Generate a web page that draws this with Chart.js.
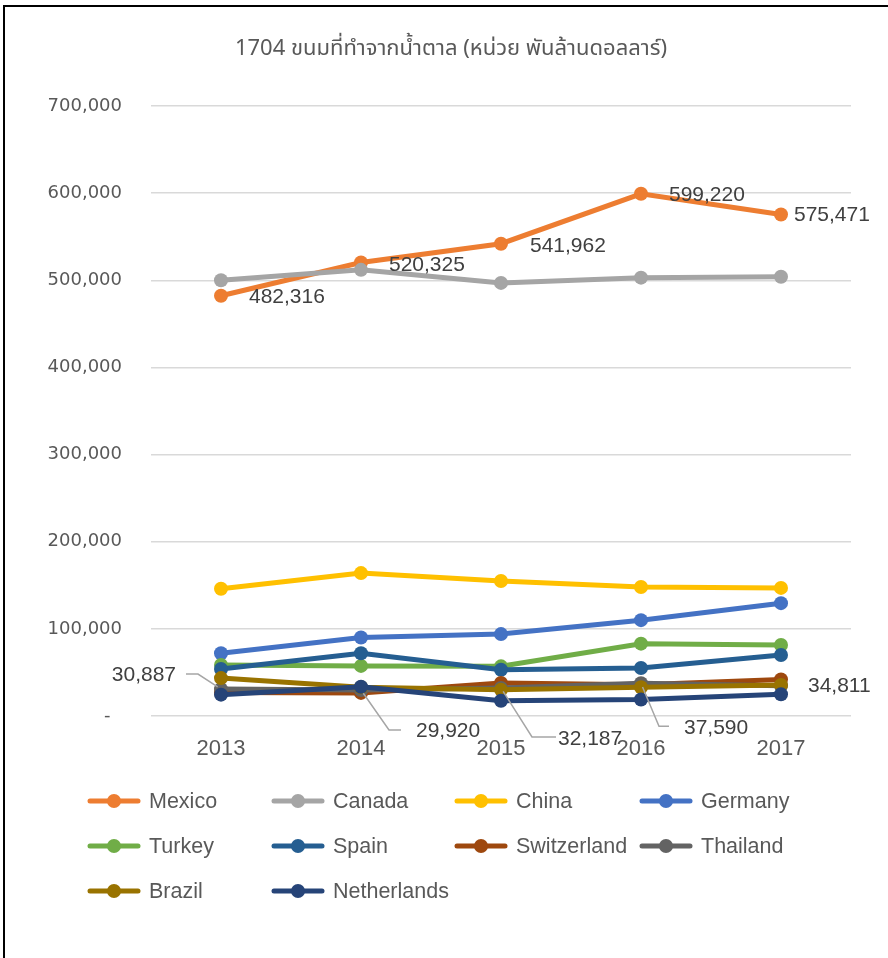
<!DOCTYPE html>
<html>
<head>
<meta charset="utf-8">
<script src="https://cdn.jsdelivr.net/npm/chart.js@4.4.1/dist/chart.umd.min.js"></script>
<style>
  html, body { margin: 0; padding: 0; background: #ffffff; }
  #wrap { position: relative; width: 888px; height: 958px; overflow: hidden; }
  #frame { position: absolute; left: 3px; top: 5px; width: 1000px; height: 1000px;
           border-top: 2px solid #000; border-left: 2px solid #000; pointer-events: none; }
  canvas { position: absolute; left: 0; top: 0; }
</style>
</head>
<body>
<div id="wrap">
  <canvas id="c" width="888" height="958"></canvas>
  <div id="frame"></div>
</div>
<script>
// ---- data ----
const titleText = '1704 ขนมที่ทำจากน้ำตาล (หน่วย พันล้านดอลลาร์)';
const years = ['2013', '2014', '2015', '2016', '2017'];
const seriesNames = ['Mexico', 'Canada', 'China', 'Germany', 'Turkey', 'Spain', 'Switzerland', 'Thailand', 'Brazil', 'Netherlands'];
const mexico      = [482316, 520325, 541962, 599220, 575471];
const canada      = [500000, 512000, 497000, 503000, 504000];
const china       = [146000, 164000, 155000, 148000, 147000];
const germany     = [72000, 90000, 94000, 110000, 129500];
const turkey      = [58500, 57500, 57000, 83000, 81500];
const spain       = [54000, 72000, 53000, 55000, 70000];
const switzerland = [27000, 26500, 38000, 36000, 42000];
const thailand    = [30887, 29920, 32187, 37590, 34811];
const brazil      = [43500, 33000, 30000, 33000, 35500];
const netherlands = [24500, 33500, 17500, 19000, 25000];
const yTicks = [0, 100000, 200000, 300000, 400000, 500000, 600000, 700000];

const seriesValues = [mexico, canada, china, germany, turkey, spain, switzerland, thailand, brazil, netherlands];
const seriesColors = ['#ED7D31', '#A5A5A5', '#FFC000', '#4472C4', '#70AD47', '#255E91', '#9E480E', '#636363', '#997300', '#264478'];

const datasets = seriesNames.map((name, i) => ({
  label: name,
  data: seriesValues[i],
  borderColor: seriesColors[i],
  backgroundColor: seriesColors[i],
  pointBackgroundColor: seriesColors[i],
  pointBorderColor: seriesColors[i],
  borderWidth: 5,
  pointRadius: 7,
  pointBorderWidth: 0,
  tension: 0,
  order: seriesNames.length - i
}));

const LABEL_FONT = '21px "Liberation Sans", Arial, sans-serif';
const LABEL_COLOR = '#404040';

// label placement (styling only): per dataset index, per point
const labelPlan = {
  0: [ {dx: 28, dy: 2}, {dx: 28, dy: 3}, {dx: 29, dy: 2}, {dx: 28, dy: 1}, {dx: 13, dy: 1} ],
  7: [
    {side: 'left', lx: -45, ly: -14, leader: [[-23, -15], [-35, -15]]},
    {dx: 55, ly: 41, leader: [[28, 40], [40, 40]]},
    {dx: 57, ly: 51, leader: [[31, 49], [55, 49]]},
    {dx: 43, ly: 45, leader: [[18, 43], [28, 43]]},
    {dx: 27, dy: 1}
  ]
};

const dataLabelPlugin = {
  id: 'dataLabels',
  afterDatasetsDraw(chart) {
    const ctx = chart.ctx;
    ctx.save();
    ctx.font = LABEL_FONT;
    ctx.fillStyle = LABEL_COLOR;
    ctx.textBaseline = 'middle';
    Object.keys(labelPlan).forEach(k => {
      const di = +k;
      const meta = chart.getDatasetMeta(di);
      const vals = chart.data.datasets[di].data;
      labelPlan[k].forEach((p, j) => {
        const el = meta.data[j];
        const px = el.x, py = el.y;
        const txt = vals[j].toLocaleString('en-US');
        if (p.leader) {
          ctx.strokeStyle = '#A6A6A6';
          ctx.lineWidth = 1.5;
          ctx.beginPath();
          const a = p.leader[0], b = p.leader[1];
          const len = Math.hypot(a[0], a[1]);
          const s = 4 / len;
          ctx.moveTo(px + a[0] * s, py + a[1] * s);
          ctx.lineTo(px + a[0], py + a[1]);
          ctx.lineTo(px + b[0], py + b[1]);
          ctx.stroke();
        }
        if (p.side === 'left') {
          ctx.textAlign = 'right';
          ctx.fillText(txt, px + p.lx, py + p.ly);
        } else {
          ctx.textAlign = 'left';
          const ly = (p.ly !== undefined) ? p.ly : p.dy;
          ctx.fillText(txt, px + p.dx, py + ly);
        }
      });
    });
    ctx.restore();
  }
};

const titleLegendPlugin = {
  id: 'titleLegend',
  afterDraw(chart) {
    const ctx = chart.ctx;
    ctx.save();
    // title
    ctx.font = '22px Tahoma, "Noto Sans Thai", "Noto Sans", "DejaVu Sans", sans-serif';
    ctx.fillStyle = '#595959';
    ctx.textAlign = 'center';
    ctx.textBaseline = 'middle';
    ctx.fillText(titleText, 451, 51);
    // legend grid
    const colX = [88, 272, 455, 640];
    const rowY = [801, 846, 891];
    ctx.font = '21.5px "Liberation Sans", Arial, sans-serif';
    ctx.textAlign = 'left';
    chart.data.datasets.forEach((ds, i) => {
      const x = colX[i % 4];
      const y = rowY[Math.floor(i / 4)];
      ctx.strokeStyle = ds.borderColor;
      ctx.lineWidth = 5;
      ctx.lineCap = 'round';
      ctx.beginPath();
      ctx.moveTo(x + 2, y);
      ctx.lineTo(x + 50, y);
      ctx.stroke();
      ctx.fillStyle = ds.borderColor;
      ctx.beginPath();
      ctx.arc(x + 26, y, 7, 0, Math.PI * 2);
      ctx.fill();
      ctx.fillStyle = '#595959';
      ctx.fillText(ds.label, x + 61, y + 1);
    });
    ctx.restore();
  }
};

new Chart(document.getElementById('c'), {
  type: 'line',
  data: { labels: years, datasets },
  options: {
    responsive: false,
    animation: false,
    devicePixelRatio: 1,
    layout: { padding: { top: 106, right: 37, bottom: 0, left: 0 } },
    plugins: {
      legend: { display: false },
      title: { display: false },
      tooltip: { enabled: false }
    },
    events: [],
    scales: {
      x: {
        offset: true,
        grid: { display: false, drawTicks: false },
        border: { display: false },
        ticks: {
          color: '#595959',
          font: { family: '"Liberation Sans", Arial, sans-serif', size: 22 },
          padding: 20,
          maxRotation: 0
        },
        afterFit(scale) { scale.height = 242; }
      },
      y: {
        min: 0,
        max: 700000,
        afterBuildTicks(scale) { scale.ticks = yTicks.map(v => ({ value: v })); },
        grid: { color: '#D9D9D9', lineWidth: 1.5, drawTicks: false },
        border: { display: false },
        ticks: {
          color: '#595959',
          font: { family: '"DejaVu Sans", Verdana, sans-serif', size: 18 },
          padding: 29,
          callback: (v) => v === 0 ? '-  ' : v.toLocaleString('en-US')
        },
        afterFit(scale) { scale.width = 151; }
      }
    }
  },
  plugins: [dataLabelPlugin, titleLegendPlugin]
});
</script>
</body>
</html>
